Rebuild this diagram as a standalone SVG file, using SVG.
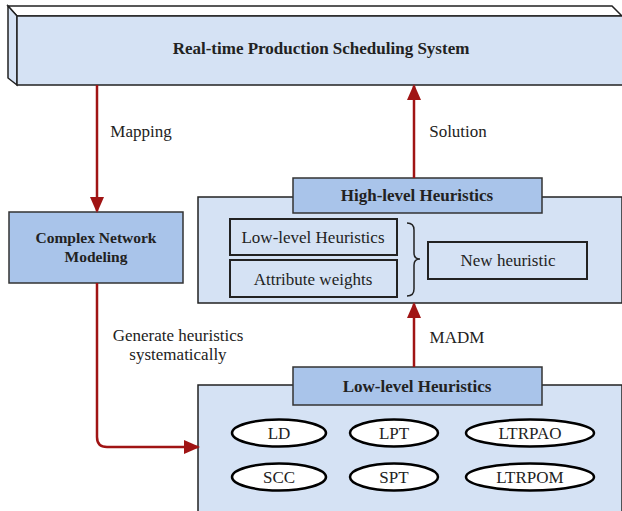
<svg xmlns="http://www.w3.org/2000/svg" width="622" height="511" viewBox="0 0 622 511">
<style>
.box{fill:#d5e2f4;stroke:#222;stroke-width:1.5}
.hdr{fill:#a9c4ea;stroke:#333;stroke-width:1.5}
.in{fill:#d5e2f4;stroke:#222;stroke-width:2}
.ell{fill:#fff;stroke:#000;stroke-width:2.5}
text{font-family:'Liberation Serif','Times New Roman','DejaVu Serif',serif;font-size:17px;fill:#222;text-anchor:middle}
.b{font-weight:bold}
.con{fill:none;stroke:#a01414;stroke-width:2.5}
</style>
<defs>
<marker id="ah" markerWidth="16" markerHeight="14" refX="14" refY="7" orient="auto" markerUnits="userSpaceOnUse" viewBox="0 0 16 14">
<path d="M0,0 L16,7 L0,14 z" fill="#a01414"/>
</marker>
</defs>
<rect width="622" height="511" fill="#fff"/>
<g id="system">
<path d="M8,6 L612,6 L622,16 L17,16 Z" fill="#fff" stroke="#222" stroke-width="1.5"/>
<path d="M8,6 L17,16 L17,85 L8,78 Z" fill="#d5e2f4" stroke="#222" stroke-width="1.5"/>
<rect x="17" y="16" width="606" height="69" class="box"/>
<text x="321" y="54" class="b">Real-time Production Scheduling System</text>
</g>
<g id="complex">
<rect x="9" y="212" width="174" height="71" class="hdr"/>
<text x="96" y="243" class="b" style="font-size:15.5px">Complex Network</text>
<text x="96" y="262" class="b" style="font-size:15.5px">Modeling</text>
</g>
<g id="high">
<rect x="198" y="197" width="424" height="106" class="box"/>
<rect x="293" y="178" width="249" height="35" class="hdr"/>
<text x="417" y="201" class="b">High-level Heuristics</text>
<rect x="230" y="219" width="167" height="36" class="in"/>
<text x="313" y="243">Low-level Heuristics</text>
<rect x="230" y="260" width="167" height="37" class="in"/>
<text x="313" y="285">Attribute weights</text>
<path d="M407,223 Q414,223 414,230 L414,253 Q414,259 420,259 Q414,259 414,265 L414,289 Q414,296 407,296" fill="none" stroke="#222" stroke-width="1.5"/>
<rect x="428" y="242" width="159" height="37" class="in"/>
<text x="508" y="266">New heuristic</text>
</g>
<g id="low">
<rect x="198" y="385" width="424" height="130" class="box"/>
<rect x="293" y="367" width="249" height="38" class="hdr"/>
<text x="417" y="392" class="b">Low-level Heuristics</text>
<ellipse cx="279" cy="433" rx="47" ry="13.5" class="ell"/>
<text x="279" y="439">LD</text>
<ellipse cx="394" cy="433" rx="44" ry="13.5" class="ell"/>
<text x="394" y="439">LPT</text>
<ellipse cx="530" cy="433" rx="64" ry="13.5" class="ell"/>
<text x="530" y="439">LTRPAO</text>
<ellipse cx="279" cy="477" rx="47" ry="13.5" class="ell"/>
<text x="279" y="483">SCC</text>
<ellipse cx="394" cy="477" rx="44" ry="13.5" class="ell"/>
<text x="394" y="483">SPT</text>
<ellipse cx="530" cy="477" rx="64" ry="13.5" class="ell"/>
<text x="530" y="483">LTRPOM</text>
</g>
<g id="connectors">
<path d="M97,85 L97,211" class="con" marker-end="url(#ah)"/>
<text x="141" y="137">Mapping</text>
<path d="M414,178 L414,86" class="con" marker-end="url(#ah)"/>
<text x="458" y="137">Solution</text>
<path d="M97,283 L97,437 Q97,447 107,447 L198,447" class="con" marker-end="url(#ah)"/>
<text x="178" y="341">Generate heuristics</text>
<text x="178" y="360">systematically</text>
<path d="M414,367 L414,304" class="con" marker-end="url(#ah)"/>
<text x="457" y="343">MADM</text>
</g>
</svg>
